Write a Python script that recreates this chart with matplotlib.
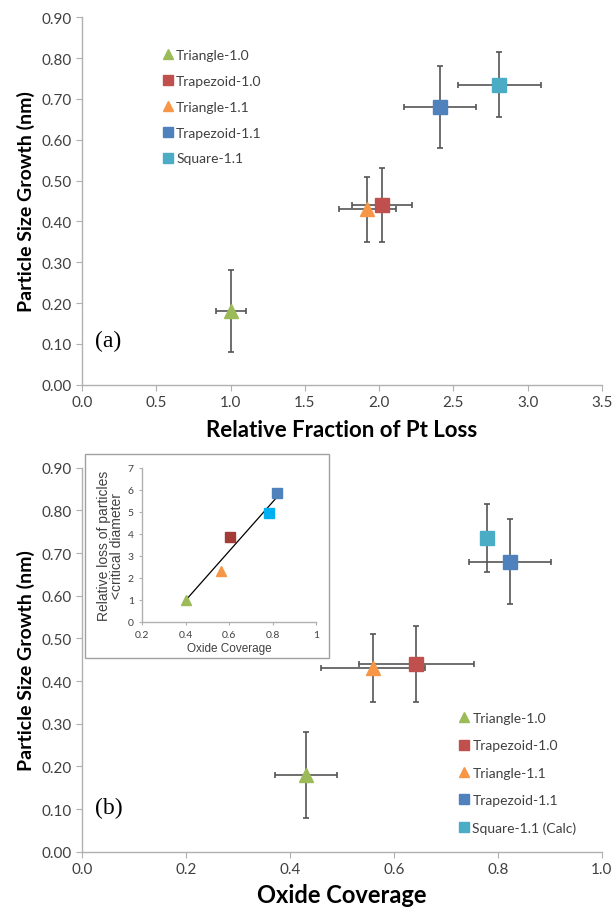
import numpy as np
import matplotlib
matplotlib.use("Agg")
import matplotlib.pyplot as plt
from matplotlib.patches import Rectangle

# series names / colours
names = ["Triangle-1.0", "Trapezoid-1.0", "Triangle-1.1", "Trapezoid-1.1", "Square-1.1"]
markers = ["^", "s", "^", "s", "s"]
colors = ["#9BBB59", "#C0504D", "#F79646", "#4F81BD", "#4BACC6"]

# panel (a): growth vs relative fraction of Pt loss
a_x = [1.00, 2.02, 1.92, 2.41, 2.81]
a_xerr = [0.10, 0.20, 0.19, 0.245, 0.28]
a_y = [0.18, 0.44, 0.43, 0.68, 0.735]
a_yerr = [0.10, 0.09, 0.08, 0.10, 0.08]

# panel (b): growth vs oxide coverage
b_x = [0.431, 0.643, 0.560, 0.823, 0.779]
b_xerr = [0.06, 0.11, 0.10, 0.078, 0.0]
b_y = [0.18, 0.44, 0.43, 0.68, 0.735]
b_yerr = [0.10, 0.09, 0.08, 0.10, 0.08]
b_names = ["Triangle-1.0", "Trapezoid-1.0", "Triangle-1.1", "Trapezoid-1.1", "Square-1.1 (Calc)"]

# inset: relative loss of particles < critical diameter
in_x = [0.40, 0.604, 0.562, 0.82, 0.782]
in_y = [1.0, 3.84, 2.33, 5.85, 4.95]
in_colors = ["#9BBB59", "#A33B36", "#F79646", "#4F81BD", "#00B0F0"]

TICK = "#404040"
SPINE = "#B0B0B0"
plt.rcParams['font.family'] = ['Lato', 'DejaVu Sans']

fig = plt.figure(figsize=(6.13, 9.12), dpi=100)


def style(ax, size=11):
  for s in ["top", "right"]:
    ax.spines[s].set_visible(False)
  for s in ["left", "bottom"]:
    ax.spines[s].set_color(SPINE)
    ax.spines[s].set_linewidth(1.0)
  ax.tick_params(colors=SPINE, labelcolor=TICK, labelsize=size, length=4, direction="out")


def panel(ax, xs, xerr, ys, yerr):
  for i in range(len(xs)):
    ax.errorbar(xs[i], ys[i], xerr=xerr[i] if xerr[i] > 0 else None, yerr=yerr[i],
                fmt="none", ecolor="#555555", elinewidth=1.2, capsize=2.5, capthick=1.2, zorder=2)
    ax.plot(xs[i], ys[i], marker=markers[i], color=colors[i], ms=10, linestyle="none", zorder=3)
  return [plt.Line2D([], [], marker=markers[i], color=colors[i], linestyle="none", ms=6.5)
          for i in range(len(xs))]


# ---------- panel (a)
ax1 = fig.add_axes([0.134, 0.577, 0.848, 0.403])
style(ax1)
h = panel(ax1, a_x, a_xerr, a_y, a_yerr)
ax1.set_xlim(0, 3.5)
ax1.set_ylim(0, 0.9)
ax1.set_xticks(np.arange(0, 3.51, 0.5))
ax1.set_xticklabels(["%.1f" % v for v in np.arange(0, 3.51, 0.5)])
ax1.set_yticks(np.arange(0, 0.91, 0.1))
ax1.set_yticklabels(["%.2f" % v for v in np.arange(0, 0.91, 0.1)])
ax1.set_ylabel("Particle Size Growth (nm)", fontsize=14, fontweight="bold", color="black", labelpad=5)
ax1.set_xlabel("Relative Fraction of Pt Loss", fontsize=16, fontweight="bold", color="black", labelpad=7)
ax1.legend(h, names, loc="upper left", bbox_to_anchor=(0.13, 0.948), frameon=False, fontsize=10,
           handlelength=0.8, handletextpad=0.2, labelspacing=1.0, labelcolor="#404040")
ax1.text(0.025, 0.105, "(a)", transform=ax1.transAxes, fontsize=17, family="Liberation Serif")

# ---------- panel (b)
ax2 = fig.add_axes([0.134, 0.065, 0.848, 0.421])
style(ax2)
h = panel(ax2, b_x, b_xerr, b_y, b_yerr)
ax2.set_xlim(0, 1.0)
ax2.set_ylim(0, 0.9)
ax2.set_xticks(np.arange(0, 1.01, 0.2))
ax2.set_xticklabels(["%.1f" % v for v in np.arange(0, 1.01, 0.2)])
ax2.set_yticks(np.arange(0, 0.91, 0.1))
ax2.set_yticklabels(["%.2f" % v for v in np.arange(0, 0.91, 0.1)])
ax2.set_ylabel("Particle Size Growth (nm)", fontsize=14, fontweight="bold", color="black", labelpad=5)
ax2.set_xlabel("Oxide Coverage", fontsize=17, fontweight="bold", color="black", labelpad=5)
ax2.legend(h, b_names, loc="upper left", bbox_to_anchor=(0.7, 0.396), frameon=False, fontsize=10,
           handlelength=0.8, handletextpad=0.2, labelspacing=1.1, labelcolor="#404040")
ax2.text(0.025, 0.1, "(b)", transform=ax2.transAxes, fontsize=17, family="Liberation Serif")

# ---------- inset
fig.patches.append(Rectangle((0.139, 0.277), 0.398, 0.224, transform=fig.transFigure,
                             facecolor="white", edgecolor="#A0A0A0", linewidth=1.0, zorder=5))
ax3 = fig.add_axes([0.232, 0.317, 0.284, 0.169], zorder=6)
ax3.patch.set_alpha(0)
style(ax3, 7.5)
ax3.tick_params(length=2.5)
fit = np.polyfit(in_x, in_y, 1)
lx = np.array([min(in_x), max(in_x)])
ax3.plot(lx, np.polyval(fit, lx), color="black", linewidth=0.9, zorder=2)
for i in range(len(in_x)):
  ax3.plot(in_x[i], in_y[i], marker=markers[i], color=in_colors[i], ms=6.5, linestyle="none", zorder=3)
ax3.set_xlim(0.2, 1.0)
ax3.set_ylim(0, 7)
ax3.set_xticks([0.2, 0.4, 0.6, 0.8, 1.0])
ax3.set_xticklabels(["0.2", "0.4", "0.6", "0.8", "1"])
ax3.set_yticks(range(0, 8))
ax3.set_xlabel("Oxide Coverage", fontsize=8.5, color="#404040",
               family=["Liberation Sans Narrow", "Liberation Sans"], labelpad=2)
ax3.set_ylabel("Relative loss of particles\n<critical diameter", fontsize=10, color="#404040",
               family=["Liberation Sans Narrow", "Liberation Sans"], labelpad=3, linespacing=0.9)

fig.savefig("out.png", dpi=100)
